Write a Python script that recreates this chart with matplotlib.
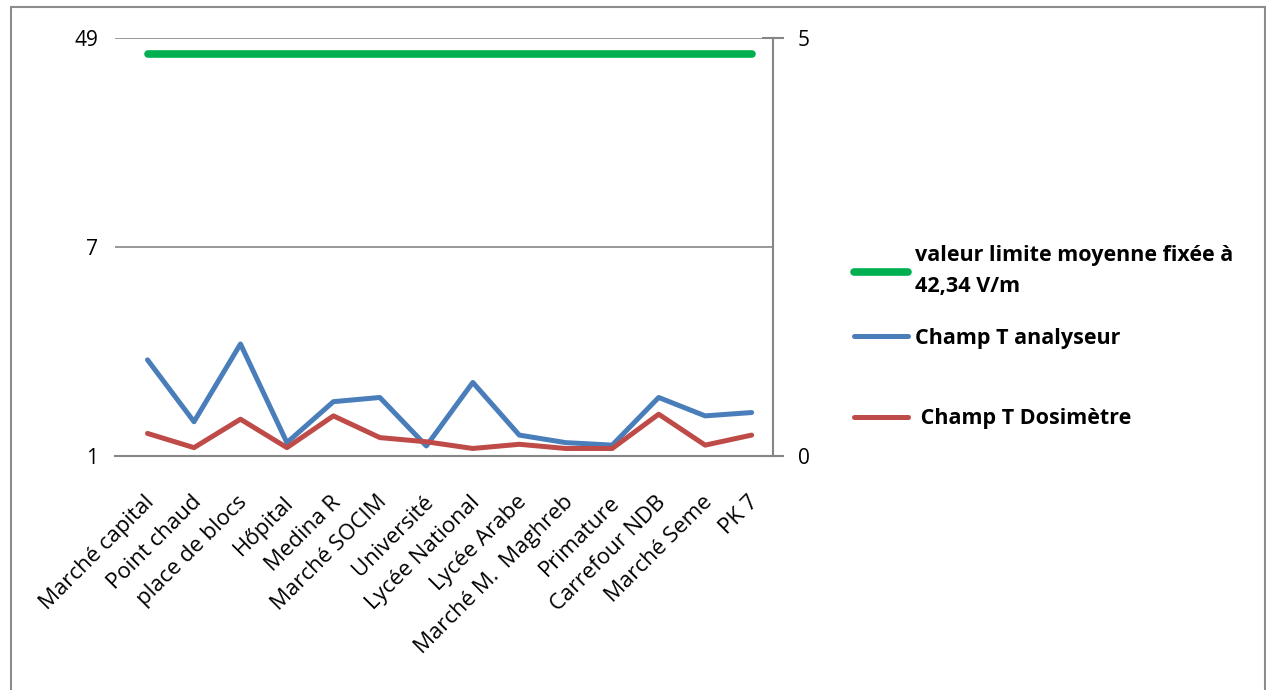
import matplotlib.pyplot as plt
from matplotlib.patches import Rectangle
from matplotlib.ticker import NullLocator, FixedFormatter
from matplotlib.transforms import ScaledTranslation

plt.rcParams['font.family'] = ['Open Sans', 'DejaVu Sans']

sites = ['Marché capital', 'Point chaud', 'place de blocs', 'Hőpital', 'Medina R',
         'Marché SOCIM', 'Université', 'Lycée National', 'Lycée Arabe',
         'Marché M.  Maghreb', 'Primature', 'Carrefour NDB', 'Marché Seme', 'PK 7']
limite = [42.34] * len(sites)
analyseur = [1.15, 0.41, 1.34, 0.16, 0.65, 0.70, 0.12, 0.88, 0.25, 0.16, 0.13, 0.70, 0.48, 0.52]
dosimetre = [0.27, 0.10, 0.44, 0.10, 0.48, 0.22, 0.17, 0.09, 0.14, 0.09, 0.09, 0.50, 0.13, 0.25]

grey = '#868686'
x = list(range(len(sites)))

fig = plt.figure(figsize=(12.66, 6.90), dpi=100)
ax = fig.add_axes([115/1266, 1 - 456/690, (773-115)/1266, (456-38)/690])

l1, = ax.plot(x, limite, color='#00B050', lw=5.5, solid_capstyle='round', zorder=3)
ax.set_yscale('log', base=7)
ax.set_ylim(1, 49)
ax.set_yticks([1, 7, 49])
ax.yaxis.set_major_formatter(FixedFormatter(['1', '7', '49']))
ax.yaxis.set_minor_locator(NullLocator())
ax.set_xlim(-0.7, len(sites) - 0.54)
ax.set_xticks(x)
ax.set_xticklabels(sites, rotation=45, ha='right', va='center', rotation_mode='anchor')
ax.tick_params(axis='x', length=0, pad=31, labelsize=16)
ax.tick_params(axis='y', length=0, pad=12, labelsize=15)
shift = ScaledTranslation(4/100, 0, fig.dpi_scale_trans)
for lab in ax.get_xticklabels():
    lab.set_transform(lab.get_transform() + shift)
ax.grid(axis='y', color=grey, lw=1.2)
for s in ['left', 'top', 'right']:
    ax.spines[s].set_visible(False)
ax.spines['bottom'].set_color(grey)
ax.spines['bottom'].set_linewidth(1.5)

ax2 = ax.twinx()
l2, = ax2.plot(x, analyseur, color='#4A7EBB', lw=3.6, solid_capstyle='round', solid_joinstyle='round')
l3, = ax2.plot(x, dosimetre, color='#BE4B48', lw=3.6, solid_capstyle='round', solid_joinstyle='round')
ax2.set_ylim(0, 5)
ax2.set_yticks([0, 5])
ax2.tick_params(axis='y', direction='inout', length=16, width=1.5, color=grey, pad=10, labelsize=15)
for s in ['left', 'top', 'bottom']:
    ax2.spines[s].set_visible(False)
ax2.spines['right'].set_color(grey)
ax2.spines['right'].set_linewidth(1.5)

leg_style = dict(loc='upper left', frameon=False, prop={'weight': 'bold', 'size': 15.5},
                 handlelength=2.5, handletextpad=0.33, borderpad=0, borderaxespad=0)
leg1 = fig.legend([l1], ['valeur limite moyenne fixée à\n42,34 V/m'],
                  bbox_to_anchor=(854/1266, 1 - 245/690), **leg_style)
leg1.get_texts()[0].set_linespacing(1.65)
leg2 = fig.legend([l2, l3], ['Champ T analyseur', ' Champ T Dosimètre'],
                  bbox_to_anchor=(854/1266, 1 - 328/690), labelspacing=2.75, **leg_style)

fig.patches.append(Rectangle((11/1266, -0.02), 1254/1266, 1.02 - 7/690,
                             transform=fig.transFigure, fill=False, ec='#8c8c8c', lw=1.5))

fig.savefig('out.png', dpi=100)
